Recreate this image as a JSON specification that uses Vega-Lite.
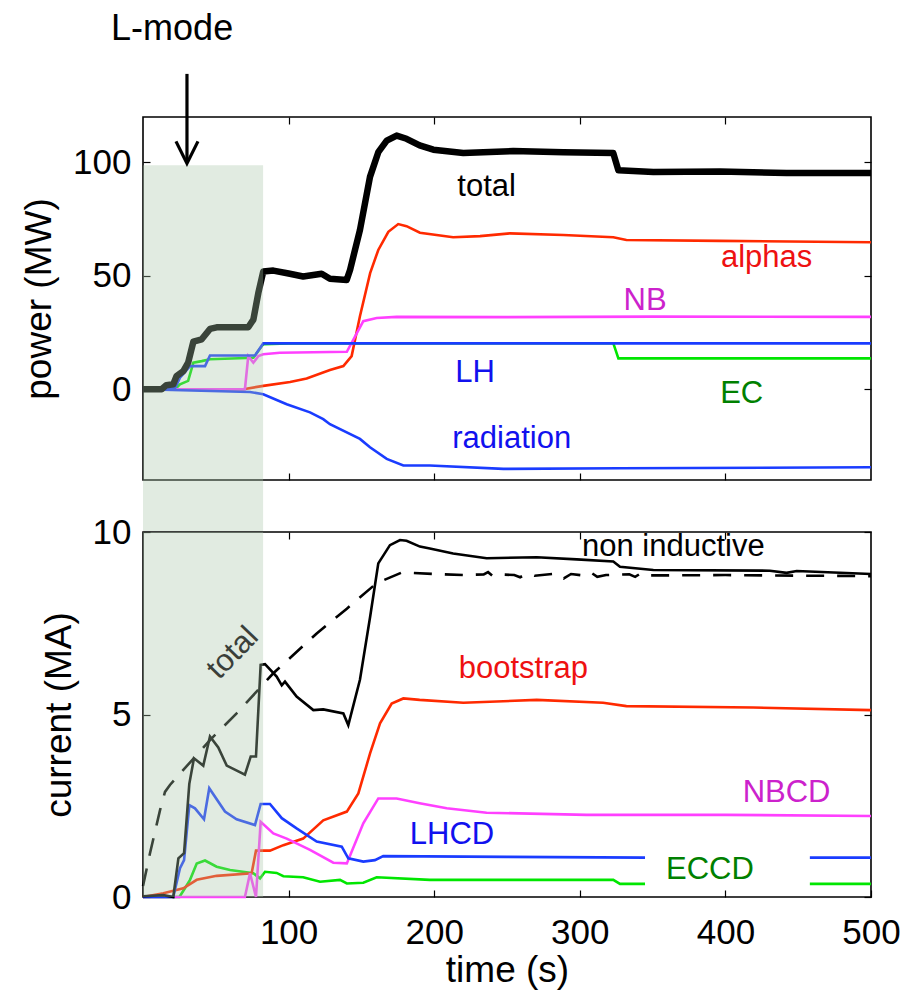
{
  "$schema": "https://vega.github.io/schema/vega-lite/v6.json",
  "background": "white",
  "padding": {"left": 19, "top": 10, "right": 5, "bottom": 5},
  "bounds": "flush",
  "spacing": 52,
  "resolve": {"scale": {"color": "independent", "fill": "independent", "x": "independent", "y": "independent"}},
  "config": {
    "font": "Liberation Sans",
    "view": {"stroke": "#000", "strokeWidth": 1.6},
    "axis": {"grid": false, "domain": false, "tickColor": "#000", "tickSize": -7, "tickWidth": 1.2, "labelFontSize": 35, "labelColor": "#000", "titleFontSize": 37, "titleFontWeight": "normal", "titleColor": "#000", "labelFont": "Liberation Sans", "titleFont": "Liberation Sans", "labelPadding": 19, "titlePadding": 14, "labelFlush": false, "labelOverlap": false, "labelBound": false},
    "text": {"font": "Liberation Sans", "fontSize": 31}
  },
  "datasets": {
    "power": [
      {"s": "EC", "t": 0, "v": 0}, {"s": "EC", "t": 22, "v": 0}, {"s": "EC", "t": 25.4, "v": 2.2}, {"s": "EC", "t": 31, "v": 3.7}, {"s": "EC", "t": 34.6, "v": 11.7}, {"s": "EC", "t": 40.3, "v": 12.4}, {"s": "EC", "t": 46, "v": 13.2}, {"s": "EC", "t": 75.8, "v": 13.9}, {"s": "EC", "t": 82.6, "v": 19.9}, {"s": "EC", "t": 100, "v": 20.2}, {"s": "EC", "t": 323, "v": 20.3}, {"s": "EC", "t": 326.5, "v": 13.6}, {"s": "EC", "t": 500, "v": 13.6},
      {"s": "alphas", "t": 0, "v": 0}, {"s": "alphas", "t": 69, "v": 0}, {"s": "alphas", "t": 82.6, "v": 1.5}, {"s": "alphas", "t": 101, "v": 3.2}, {"s": "alphas", "t": 112.4, "v": 4.7}, {"s": "alphas", "t": 128.4, "v": 8.5}, {"s": "alphas", "t": 137.6, "v": 10.2}, {"s": "alphas", "t": 143.3, "v": 14.6}, {"s": "alphas", "t": 149, "v": 32.2}, {"s": "alphas", "t": 156, "v": 51.2}, {"s": "alphas", "t": 161.6, "v": 61.4}, {"s": "alphas", "t": 168.5, "v": 69.4}, {"s": "alphas", "t": 175.3, "v": 72.8}, {"s": "alphas", "t": 181, "v": 71.9}, {"s": "alphas", "t": 190.2, "v": 69}, {"s": "alphas", "t": 213, "v": 67}, {"s": "alphas", "t": 231.5, "v": 67.5}, {"s": "alphas", "t": 252, "v": 68.7}, {"s": "alphas", "t": 288.7, "v": 68}, {"s": "alphas", "t": 323, "v": 67}, {"s": "alphas", "t": 332, "v": 65.8}, {"s": "alphas", "t": 396, "v": 65.4}, {"s": "alphas", "t": 500, "v": 64.8},
      {"s": "NB", "t": 0, "v": 0}, {"s": "NB", "t": 70, "v": 0}, {"s": "NB", "t": 72.3, "v": 14.6}, {"s": "NB", "t": 75.8, "v": 11.7}, {"s": "NB", "t": 79.2, "v": 14.6}, {"s": "NB", "t": 82.6, "v": 15.4}, {"s": "NB", "t": 94, "v": 16.1}, {"s": "NB", "t": 140, "v": 16.5}, {"s": "NB", "t": 151.3, "v": 30}, {"s": "NB", "t": 160.5, "v": 31.4}, {"s": "NB", "t": 174.2, "v": 31.9}, {"s": "NB", "t": 250, "v": 31.8}, {"s": "NB", "t": 350, "v": 32}, {"s": "NB", "t": 500, "v": 31.9},
      {"s": "LH", "t": 0, "v": 0}, {"s": "LH", "t": 22, "v": 0.5}, {"s": "LH", "t": 25.4, "v": 5.1}, {"s": "LH", "t": 28, "v": 7}, {"s": "LH", "t": 32.3, "v": 10.2}, {"s": "LH", "t": 42.6, "v": 10.2}, {"s": "LH", "t": 46, "v": 14.9}, {"s": "LH", "t": 76.9, "v": 14.9}, {"s": "LH", "t": 82.6, "v": 20.2}, {"s": "LH", "t": 500, "v": 20.2},
      {"s": "radiation", "t": 0, "v": 0}, {"s": "radiation", "t": 73.5, "v": -1.2}, {"s": "radiation", "t": 82.6, "v": -2.2}, {"s": "radiation", "t": 98.7, "v": -6.6}, {"s": "radiation", "t": 114.7, "v": -10.2}, {"s": "radiation", "t": 123.8, "v": -13.2}, {"s": "radiation", "t": 128.4, "v": -15.4}, {"s": "radiation", "t": 149, "v": -21.9}, {"s": "radiation", "t": 155.9, "v": -25.6}, {"s": "radiation", "t": 167.4, "v": -30.7}, {"s": "radiation", "t": 178.8, "v": -33.6}, {"s": "radiation", "t": 197, "v": -33.6}, {"s": "radiation", "t": 247.5, "v": -35.1}, {"s": "radiation", "t": 327.6, "v": -34.8}, {"s": "radiation", "t": 500, "v": -34.4},
      {"s": "total", "t": 0, "v": 0}, {"s": "total", "t": 12.8, "v": 0}, {"s": "total", "t": 16, "v": 1.8}, {"s": "total", "t": 20.8, "v": 2.2}, {"s": "total", "t": 23, "v": 5.8}, {"s": "total", "t": 27.7, "v": 8}, {"s": "total", "t": 31, "v": 11.7}, {"s": "total", "t": 34.6, "v": 21}, {"s": "total", "t": 40.3, "v": 22}, {"s": "total", "t": 46, "v": 26.6}, {"s": "total", "t": 50.6, "v": 27.3}, {"s": "total", "t": 72.3, "v": 27.3}, {"s": "total", "t": 75.8, "v": 30.7}, {"s": "total", "t": 79.2, "v": 42.4}, {"s": "total", "t": 82.6, "v": 51.9}, {"s": "total", "t": 89.5, "v": 52.3}, {"s": "total", "t": 100, "v": 51}, {"s": "total", "t": 110, "v": 49.7}, {"s": "total", "t": 122.7, "v": 50.9}, {"s": "total", "t": 128.4, "v": 48.7}, {"s": "total", "t": 139.9, "v": 48.2}, {"s": "total", "t": 142.2, "v": 52.6}, {"s": "total", "t": 149, "v": 70.2}, {"s": "total", "t": 155.9, "v": 93.6}, {"s": "total", "t": 161.6, "v": 104.5}, {"s": "total", "t": 167.4, "v": 109.6}, {"s": "total", "t": 174.2, "v": 111.8}, {"s": "total", "t": 181, "v": 110.4}, {"s": "total", "t": 190, "v": 107.5}, {"s": "total", "t": 199.4, "v": 105.6}, {"s": "total", "t": 220, "v": 104.1}, {"s": "total", "t": 254.3, "v": 105}, {"s": "total", "t": 288.7, "v": 104.5}, {"s": "total", "t": 323, "v": 104.1}, {"s": "total", "t": 326.5, "v": 96.5}, {"s": "total", "t": 350.5, "v": 95.8}, {"s": "total", "t": 396.3, "v": 96}, {"s": "total", "t": 442, "v": 95.3}, {"s": "total", "t": 500, "v": 95.3}
    ],
    "current": [
      {"s": "ECCD", "p": 1, "t": 0, "v": 0}, {"s": "ECCD", "p": 1, "t": 25, "v": 0}, {"s": "ECCD", "p": 1, "t": 28.8, "v": 0.24}, {"s": "ECCD", "p": 1, "t": 32.3, "v": 0.47}, {"s": "ECCD", "p": 1, "t": 36.9, "v": 0.92}, {"s": "ECCD", "p": 1, "t": 42.6, "v": 1.0}, {"s": "ECCD", "p": 1, "t": 50.6, "v": 0.83}, {"s": "ECCD", "p": 1, "t": 59.8, "v": 0.74}, {"s": "ECCD", "p": 1, "t": 75.8, "v": 0.65}, {"s": "ECCD", "p": 1, "t": 80.4, "v": 0.51}, {"s": "ECCD", "p": 1, "t": 83.8, "v": 0.69}, {"s": "ECCD", "p": 1, "t": 91.8, "v": 0.66}, {"s": "ECCD", "p": 1, "t": 96.4, "v": 0.57}, {"s": "ECCD", "p": 1, "t": 110, "v": 0.54}, {"s": "ECCD", "p": 1, "t": 121.6, "v": 0.42}, {"s": "ECCD", "p": 1, "t": 135.3, "v": 0.47}, {"s": "ECCD", "p": 1, "t": 140, "v": 0.37}, {"s": "ECCD", "p": 1, "t": 151.3, "v": 0.39}, {"s": "ECCD", "p": 1, "t": 160.5, "v": 0.54}, {"s": "ECCD", "p": 1, "t": 197, "v": 0.47}, {"s": "ECCD", "p": 1, "t": 323, "v": 0.47}, {"s": "ECCD", "p": 1, "t": 327.6, "v": 0.36}, {"s": "ECCD", "p": 1, "t": 344.8, "v": 0.36},
      {"s": "ECCD", "p": 2, "t": 458, "v": 0.36}, {"s": "ECCD", "p": 2, "t": 500, "v": 0.36},
      {"s": "bootstrap", "p": 1, "t": 0, "v": 0}, {"s": "bootstrap", "p": 1, "t": 14, "v": 0.1}, {"s": "bootstrap", "p": 1, "t": 27.7, "v": 0.24}, {"s": "bootstrap", "p": 1, "t": 36.9, "v": 0.47}, {"s": "bootstrap", "p": 1, "t": 50.6, "v": 0.58}, {"s": "bootstrap", "p": 1, "t": 74.6, "v": 0.65}, {"s": "bootstrap", "p": 1, "t": 77.6, "v": 1.27}, {"s": "bootstrap", "p": 1, "t": 87.2, "v": 1.27}, {"s": "bootstrap", "p": 1, "t": 96.4, "v": 1.42}, {"s": "bootstrap", "p": 1, "t": 110, "v": 1.6}, {"s": "bootstrap", "p": 1, "t": 123.8, "v": 2.1}, {"s": "bootstrap", "p": 1, "t": 140, "v": 2.34}, {"s": "bootstrap", "p": 1, "t": 147.9, "v": 2.84}, {"s": "bootstrap", "p": 1, "t": 156, "v": 3.94}, {"s": "bootstrap", "p": 1, "t": 162.8, "v": 4.76}, {"s": "bootstrap", "p": 1, "t": 170.8, "v": 5.3}, {"s": "bootstrap", "p": 1, "t": 178.8, "v": 5.44}, {"s": "bootstrap", "p": 1, "t": 190, "v": 5.4}, {"s": "bootstrap", "p": 1, "t": 220, "v": 5.32}, {"s": "bootstrap", "p": 1, "t": 270.4, "v": 5.4}, {"s": "bootstrap", "p": 1, "t": 316, "v": 5.32}, {"s": "bootstrap", "p": 1, "t": 332, "v": 5.23}, {"s": "bootstrap", "p": 1, "t": 419, "v": 5.19}, {"s": "bootstrap", "p": 1, "t": 500, "v": 5.12},
      {"s": "NBCD", "p": 1, "t": 0, "v": 0}, {"s": "NBCD", "p": 1, "t": 70, "v": 0}, {"s": "NBCD", "p": 1, "t": 73.5, "v": 0.65}, {"s": "NBCD", "p": 1, "t": 77.6, "v": 0}, {"s": "NBCD", "p": 1, "t": 80.8, "v": 2.06}, {"s": "NBCD", "p": 1, "t": 89.5, "v": 1.74}, {"s": "NBCD", "p": 1, "t": 98.7, "v": 1.6}, {"s": "NBCD", "p": 1, "t": 114.7, "v": 1.29}, {"s": "NBCD", "p": 1, "t": 130.7, "v": 0.94}, {"s": "NBCD", "p": 1, "t": 140, "v": 0.92}, {"s": "NBCD", "p": 1, "t": 151.3, "v": 2.02}, {"s": "NBCD", "p": 1, "t": 161.6, "v": 2.7}, {"s": "NBCD", "p": 1, "t": 174.2, "v": 2.7}, {"s": "NBCD", "p": 1, "t": 190, "v": 2.57}, {"s": "NBCD", "p": 1, "t": 208.6, "v": 2.43}, {"s": "NBCD", "p": 1, "t": 236, "v": 2.31}, {"s": "NBCD", "p": 1, "t": 304.7, "v": 2.25}, {"s": "NBCD", "p": 1, "t": 400, "v": 2.25}, {"s": "NBCD", "p": 1, "t": 500, "v": 2.22},
      {"s": "LHCD", "p": 1, "t": 0, "v": 0}, {"s": "LHCD", "p": 1, "t": 20.8, "v": 0}, {"s": "LHCD", "p": 1, "t": 25.4, "v": 0.79}, {"s": "LHCD", "p": 1, "t": 28.2, "v": 1.01}, {"s": "LHCD", "p": 1, "t": 31.8, "v": 2.52}, {"s": "LHCD", "p": 1, "t": 35.7, "v": 2.43}, {"s": "LHCD", "p": 1, "t": 41.9, "v": 2.13}, {"s": "LHCD", "p": 1, "t": 45.5, "v": 2.98}, {"s": "LHCD", "p": 1, "t": 56.3, "v": 2.34}, {"s": "LHCD", "p": 1, "t": 64.3, "v": 2.13}, {"s": "LHCD", "p": 1, "t": 76.9, "v": 1.97}, {"s": "LHCD", "p": 1, "t": 80.8, "v": 2.55}, {"s": "LHCD", "p": 1, "t": 87.2, "v": 2.55}, {"s": "LHCD", "p": 1, "t": 95.3, "v": 2.16}, {"s": "LHCD", "p": 1, "t": 105.5, "v": 1.88}, {"s": "LHCD", "p": 1, "t": 119.3, "v": 1.52}, {"s": "LHCD", "p": 1, "t": 136.5, "v": 1.38}, {"s": "LHCD", "p": 1, "t": 141, "v": 1.06}, {"s": "LHCD", "p": 1, "t": 151.3, "v": 0.97}, {"s": "LHCD", "p": 1, "t": 159.3, "v": 1.01}, {"s": "LHCD", "p": 1, "t": 165, "v": 1.12}, {"s": "LHCD", "p": 1, "t": 250, "v": 1.1}, {"s": "LHCD", "p": 1, "t": 344.8, "v": 1.08},
      {"s": "LHCD", "p": 2, "t": 458, "v": 1.08}, {"s": "LHCD", "p": 2, "t": 500, "v": 1.08},
      {"s": "non inductive", "p": 1, "t": 0, "v": 0.02}, {"s": "non inductive", "p": 1, "t": 14, "v": 0.05}, {"s": "non inductive", "p": 1, "t": 20.8, "v": 0}, {"s": "non inductive", "p": 1, "t": 24.3, "v": 1.06}, {"s": "non inductive", "p": 1, "t": 28.2, "v": 1.2}, {"s": "non inductive", "p": 1, "t": 31.8, "v": 3.1}, {"s": "non inductive", "p": 1, "t": 35, "v": 3.8}, {"s": "non inductive", "p": 1, "t": 41.4, "v": 3.6}, {"s": "non inductive", "p": 1, "t": 46, "v": 4.4}, {"s": "non inductive", "p": 1, "t": 51.7, "v": 4.1}, {"s": "non inductive", "p": 1, "t": 57.5, "v": 3.6}, {"s": "non inductive", "p": 1, "t": 70, "v": 3.35}, {"s": "non inductive", "p": 1, "t": 74, "v": 3.85}, {"s": "non inductive", "p": 1, "t": 77.6, "v": 3.85}, {"s": "non inductive", "p": 1, "t": 80.8, "v": 6.36}, {"s": "non inductive", "p": 1, "t": 83.8, "v": 6.38}, {"s": "non inductive", "p": 1, "t": 91.8, "v": 6.04}, {"s": "non inductive", "p": 1, "t": 95.3, "v": 5.8}, {"s": "non inductive", "p": 1, "t": 97.5, "v": 5.9}, {"s": "non inductive", "p": 1, "t": 105.5, "v": 5.49}, {"s": "non inductive", "p": 1, "t": 117, "v": 5.12}, {"s": "non inductive", "p": 1, "t": 123.8, "v": 5.14}, {"s": "non inductive", "p": 1, "t": 137.6, "v": 5.03}, {"s": "non inductive", "p": 1, "t": 141, "v": 4.71}, {"s": "non inductive", "p": 1, "t": 149, "v": 5.95}, {"s": "non inductive", "p": 1, "t": 156, "v": 7.68}, {"s": "non inductive", "p": 1, "t": 161.6, "v": 9.14}, {"s": "non inductive", "p": 1, "t": 169.6, "v": 9.64}, {"s": "non inductive", "p": 1, "t": 176.5, "v": 9.78}, {"s": "non inductive", "p": 1, "t": 181, "v": 9.76}, {"s": "non inductive", "p": 1, "t": 190.2, "v": 9.6}, {"s": "non inductive", "p": 1, "t": 197, "v": 9.55}, {"s": "non inductive", "p": 1, "t": 213, "v": 9.41}, {"s": "non inductive", "p": 1, "t": 236, "v": 9.28}, {"s": "non inductive", "p": 1, "t": 270.4, "v": 9.31}, {"s": "non inductive", "p": 1, "t": 297.9, "v": 9.25}, {"s": "non inductive", "p": 1, "t": 323, "v": 9.19}, {"s": "non inductive", "p": 1, "t": 327.6, "v": 9.05}, {"s": "non inductive", "p": 1, "t": 350.5, "v": 8.96}, {"s": "non inductive", "p": 1, "t": 430.6, "v": 8.94}, {"s": "non inductive", "p": 1, "t": 442, "v": 8.88}, {"s": "non inductive", "p": 1, "t": 449, "v": 8.93}, {"s": "non inductive", "p": 1, "t": 500, "v": 8.85}
    ],
    "currentTotal": [
      {"t": 0, "v": 0.3}, {"t": 4.8, "v": 1.2}, {"t": 11.7, "v": 2.38}, {"t": 15.1, "v": 2.88}, {"t": 18.5, "v": 3.07}, {"t": 46, "v": 4.3}, {"t": 64.3, "v": 5.03}, {"t": 89.5, "v": 6.13}, {"t": 119.3, "v": 7.22}, {"t": 140, "v": 7.9}, {"t": 160.5, "v": 8.6}, {"t": 177.7, "v": 8.89}, {"t": 200, "v": 8.85}, {"t": 220, "v": 8.82}, {"t": 234, "v": 8.84}, {"t": 237, "v": 8.9}, {"t": 240, "v": 8.8}, {"t": 243, "v": 8.84}, {"t": 255, "v": 8.82}, {"t": 259, "v": 8.76}, {"t": 264, "v": 8.86}, {"t": 269, "v": 8.8}, {"t": 284, "v": 8.86}, {"t": 289, "v": 8.73}, {"t": 294, "v": 8.85}, {"t": 304, "v": 8.8}, {"t": 308, "v": 8.88}, {"t": 312, "v": 8.77}, {"t": 318, "v": 8.82}, {"t": 334, "v": 8.84}, {"t": 338, "v": 8.77}, {"t": 342, "v": 8.87}, {"t": 346, "v": 8.81}, {"t": 400, "v": 8.82}, {"t": 500, "v": 8.79}
    ],
    "powerLabels": [
      {"text": "total", "t": 236, "v": 89.2}, {"text": "alphas", "t": 428.3, "v": 57.8}, {"text": "NB", "t": 344.8, "v": 38.7}, {"text": "LH", "t": 228, "v": 7.3}, {"text": "EC", "t": 411.2, "v": -2.2}, {"text": "radiation", "t": 253.2, "v": -21.9}
    ],
    "currentLabels": [
      {"text": "non inductive", "t": 364.2, "v": 9.6}, {"text": "bootstrap", "t": 261.2, "v": 6.26}, {"text": "NBCD", "t": 442, "v": 2.84}, {"text": "LHCD", "t": 212.2, "v": 1.7}, {"text": "ECCD", "t": 389.4, "v": 0.74}
    ]
  },
  "vconcat": [
    {
      "width": 728,
      "height": 363,
      "resolve": {"axis": {"x": "independent", "y": "independent"}},
      "layer": [
        {
          "data": {"name": "power"},
          "transform": [{"filter": "datum.s !== 'total'"}],
          "mark": {"type": "line", "strokeWidth": 2.6},
          "encoding": {
            "x": {"field": "t", "type": "quantitative", "scale": {"domain": [0, 500], "nice": false, "zero": false}, "axis": {"orient": "bottom", "values": [100, 200, 300, 400], "labels": false, "title": null}},
            "y": {"field": "v", "type": "quantitative", "scale": {"domain": [-40, 120], "nice": false, "zero": false}, "axis": {"orient": "left", "values": [0, 50, 100], "title": "power (MW)"}},
            "color": {"field": "s", "type": "nominal", "scale": {"domain": ["EC", "alphas", "NB", "LH", "radiation", "total"], "range": ["#00e600", "#ff2a00", "#ff40ff", "#1a3cff", "#1a3cff", "#000000"]}, "legend": null}
          }
        },
        {
          "data": {"name": "power"},
          "transform": [{"filter": "datum.s === 'total'"}],
          "mark": {"type": "line", "strokeWidth": 6.5, "color": "#000", "strokeJoin": "round"},
          "encoding": {
            "x": {"field": "t", "type": "quantitative", "scale": {"domain": [0, 500], "nice": false, "zero": false}, "axis": null},
            "y": {"field": "v", "type": "quantitative", "scale": {"domain": [-40, 120], "nice": false, "zero": false}, "axis": null}
          }
        },
        {
          "data": {"values": [{"t0": 0, "t1": 82.5, "v0": 98.7, "v1": -62.6}]},
          "mark": {"type": "rect", "color": "#a8c5a8", "opacity": 0.345},
          "encoding": {
            "x": {"field": "t0", "type": "quantitative", "scale": {"domain": [0, 500], "nice": false, "zero": false}, "axis": {"orient": "top", "values": [100, 200, 300, 400], "labels": false, "title": null}},
            "x2": {"field": "t1"},
            "y": {"field": "v0", "type": "quantitative", "scale": {"domain": [-40, 120], "nice": false, "zero": false}, "axis": {"orient": "right", "values": [0, 50, 100], "labels": false, "title": null}},
            "y2": {"field": "v1"}
          }
        },
        {
          "data": {"name": "powerLabels"},
          "mark": {"type": "text", "fontSize": 31},
          "encoding": {
            "x": {"field": "t", "type": "quantitative", "axis": null},
            "y": {"field": "v", "type": "quantitative", "axis": null},
            "text": {"field": "text"},
            "fill": {"field": "text", "type": "nominal", "scale": {"domain": ["total", "alphas", "NB", "LH", "EC", "radiation"], "range": ["#000000", "#ee1111", "#cc22cc", "#1111ee", "#008000", "#1111ee"]}, "legend": null}
          }
        },
        {
          "data": {"values": [{"t": 20, "v": 158.8, "label": "L-mode"}]},
          "mark": {"type": "text", "fontSize": 36, "color": "#000"},
          "encoding": {
            "x": {"field": "t", "type": "quantitative", "axis": null},
            "y": {"field": "v", "type": "quantitative", "axis": null},
            "text": {"field": "label"}
          }
        },
        {
          "data": {"values": [{"t": 30.2, "v": 139, "v2": 100.5}]},
          "mark": {"type": "rule", "strokeWidth": 3.2, "color": "#000"},
          "encoding": {
            "x": {"field": "t", "type": "quantitative", "axis": null},
            "y": {"field": "v", "type": "quantitative", "axis": null},
            "y2": {"field": "v2"}
          }
        },
        {
          "data": {"values": [{"t": 30.2, "v": 104.4}]},
          "mark": {"type": "point", "shape": "M-1,-1L0,1L1,-1", "size": 484, "filled": false, "strokeWidth": 3.2, "color": "#000", "opacity": 1},
          "encoding": {
            "x": {"field": "t", "type": "quantitative", "axis": null},
            "y": {"field": "v", "type": "quantitative", "axis": null}
          }
        }
      ]
    },
    {
      "width": 728,
      "height": 365,
      "resolve": {"axis": {"x": "independent", "y": "independent"}},
      "layer": [
        {
          "data": {"name": "current"},
          "mark": {"type": "line", "strokeWidth": 2.6},
          "encoding": {
            "x": {"field": "t", "type": "quantitative", "scale": {"domain": [0, 500], "nice": false, "zero": false}, "axis": {"orient": "bottom", "values": [100, 200, 300, 400, 500], "title": "time (s)", "labelPadding": 25, "titlePadding": 2}},
            "y": {"field": "v", "type": "quantitative", "scale": {"domain": [0, 10], "nice": false, "zero": false}, "axis": {"orient": "left", "values": [0, 5, 10], "title": "current (MA)"}},
            "color": {"field": "s", "type": "nominal", "scale": {"domain": ["ECCD", "bootstrap", "NBCD", "LHCD", "non inductive"], "range": ["#00e600", "#ff2a00", "#ff40ff", "#1a3cff", "#000000"]}, "legend": null},
            "detail": {"field": "p", "type": "nominal"}
          }
        },
        {
          "data": {"name": "currentTotal"},
          "mark": {"type": "line", "strokeWidth": 2.6, "color": "#000", "strokeDash": [18, 13]},
          "encoding": {
            "x": {"field": "t", "type": "quantitative", "scale": {"domain": [0, 500], "nice": false, "zero": false}, "axis": null},
            "y": {"field": "v", "type": "quantitative", "scale": {"domain": [0, 10], "nice": false, "zero": false}, "axis": null}
          }
        },
        {
          "data": {"values": [{"t0": 0, "t1": 82.5, "v0": 0, "v1": 10}]},
          "mark": {"type": "rect", "color": "#a8c5a8", "opacity": 0.345},
          "encoding": {
            "x": {"field": "t0", "type": "quantitative", "scale": {"domain": [0, 500], "nice": false, "zero": false}, "axis": {"orient": "top", "values": [100, 200, 300, 400], "labels": false, "title": null}},
            "x2": {"field": "t1"},
            "y": {"field": "v0", "type": "quantitative", "scale": {"domain": [0, 10], "nice": false, "zero": false}, "axis": {"orient": "right", "values": [0, 5, 10], "labels": false, "title": null}},
            "y2": {"field": "v1"}
          }
        },
        {
          "data": {"name": "currentLabels"},
          "mark": {"type": "text", "fontSize": 31},
          "encoding": {
            "x": {"field": "t", "type": "quantitative", "axis": null},
            "y": {"field": "v", "type": "quantitative", "axis": null},
            "text": {"field": "text"},
            "fill": {"field": "text", "type": "nominal", "scale": {"domain": ["non inductive", "bootstrap", "NBCD", "LHCD", "ECCD"], "range": ["#000000", "#ee1111", "#cc22cc", "#1111ee", "#008000"]}, "legend": null}
          }
        },
        {
          "data": {"values": [{"t": 61.8, "v": 6.68, "label": "total"}]},
          "mark": {"type": "text", "fontSize": 31, "angle": -46, "color": "#3a3f3a"},
          "encoding": {
            "x": {"field": "t", "type": "quantitative", "axis": null},
            "y": {"field": "v", "type": "quantitative", "axis": null},
            "text": {"field": "label"}
          }
        }
      ]
    }
  ]
}
